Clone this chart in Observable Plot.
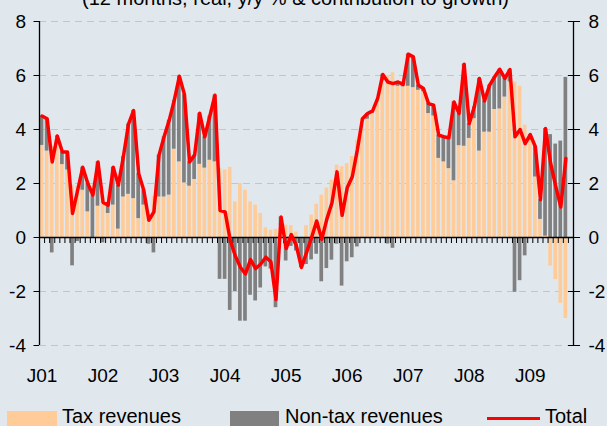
<!DOCTYPE html>
<html><head><meta charset="utf-8">
<script src="https://cdn.jsdelivr.net/npm/d3@7"></script>
<script src="https://cdn.jsdelivr.net/npm/@observablehq/plot@0.6"></script>
<style>
html,body{margin:0;padding:0;}
body{width:607px;height:426px;overflow:hidden;background:#e0e8ee;position:relative;font-family:"Liberation Sans",Arial,sans-serif;color:#000;}
#title{position:absolute;left:-8px;top:-12px;width:607px;text-align:center;font-size:20px;line-height:20px;white-space:nowrap;}
#chart{position:absolute;left:0;top:0;}
.lt{position:absolute;top:406px;font-size:20px;line-height:20px;white-space:nowrap;}
.sw{position:absolute;}
</style></head><body>
<div id="title">(12 months, real, y/y % &amp; contribution to growth)</div>
<div id="chart"></div>
<div class="sw" style="left:7px;top:411px;width:50px;height:20px;background:#ffcc99"></div>
<div class="lt" style="left:62px">Tax revenues</div>
<div class="sw" style="left:230px;top:411px;width:49px;height:20px;background:#808080"></div>
<div class="lt" style="left:285px">Non-tax revenues</div>
<div class="sw" style="left:487px;top:417px;width:53px;height:3px;background:#ff0000"></div>
<div class="lt" style="left:545px">Total</div>
<script>
// Monthly data, Jan 2001 - Aug 2009
const yearLabels = ["J01","J02","J03","J04","J05","J06","J07","J08","J09"];
const yTicks = [-4, -2, 0, 2, 4, 6, 8];
const seriesNames = ["Tax revenues", "Non-tax revenues", "Total"];

const taxRevenues = [
  3.41, 3.2, 3.37, 3.7, 2.7, 2.5, 1.94, 1.9, 1.75, 0.95, 0.0, 1.16,
  1.5, 0.89, 1.2, 0.31, 1.5, 1.6, 1.44, 0.7, 1.2, 0.89, 1.52, 1.5,
  1.5, 1.57, 3.27, 2.8, 2.02, 1.9, 2.15, 2.71, 2.57, 2.86, 2.8, 2.55,
  2.5, 2.6, 1.32, 2.0, 1.75, 1.32, 1.2, 0.89, 0.36, 0.27, 0.3, 0.45,
  0.46, 0.44, 0.2, 0.0, 0.44, 0.83, 1.23, 1.57, 1.83, 2.12, 2.68, 2.62,
  2.74, 3.0, 3.6, 4.4, 4.38, 4.6, 5.15, 5.8, 6.0, 6.1, 5.6, 5.58,
  5.6, 5.55, 5.45, 5.4, 4.59, 4.5, 2.93, 2.8, 2.55, 2.1, 3.4, 3.38,
  3.67, 4.4, 3.2, 3.9, 3.9, 4.74, 4.76, 5.2, 5.76, 5.76, 5.6, 4.16,
  3.6, 2.24, 0.67, 0.05, -1.06, -1.56, -2.44, -3.0
];
const nonTaxRevenues = [
  1.09, 1.2, -0.57, 0.06, 0.47, 0.67, -1.05, -0.15, 0.85, 1.05, 1.57, 1.64,
  -0.2, 0.31, 1.4, 1.63, 1.5, 2.6, 3.26, 1.67, 0.55, -0.25, -0.57, 1.55,
  2.23, 2.77, 1.81, 3.17, 3.28, 0.9, 0.9, 1.89, 1.16, 1.64, 2.47, -1.55,
  -1.55, -2.7, -2.0, -3.1, -3.1, -2.14, -2.35, -1.87, -1.09, -1.17, -2.6, 0.31,
  -0.87, -0.33, -0.5, -1.11, -1.0, -0.83, -0.62, -1.64, -1.15, -0.84, -0.25, -1.8,
  -0.9, -0.75, -0.35, 0.0, 0.21, 0.09, 0.0, 0.24, -0.24, -0.4, 0.16, 0.09,
  1.19, 1.14, 0.19, 0.12, 0.37, 0.4, 0.86, 0.93, 1.14, 2.92, 1.19, 3.04,
  0.55, 0.44, 2.69, 1.16, 1.74, 1.21, 1.47, 0.69, 0.46, -2.03, -1.6, -0.68,
  0.21, 1.12, 0.73, 3.99, 3.81, 3.46, 3.57, 5.93
];
const totalRevenues = [
  4.5, 4.4, 2.8, 3.76, 3.17, 3.17, 0.89, 1.75, 2.6, 2.0, 1.57, 2.8,
  1.3, 1.2, 2.6, 1.94, 3.0, 4.2, 4.7, 2.37, 1.75, 0.64, 0.95, 3.05,
  3.73, 4.34, 5.08, 5.97, 5.3, 2.8, 3.05, 4.6, 3.73, 4.5, 5.27, 1.0,
  0.95, -0.1, -0.68, -1.1, -1.35, -0.82, -1.15, -0.98, -0.73, -0.9, -2.3, 0.76,
  -0.41, 0.11, -0.3, -1.11, -0.56, 0.0, 0.61, -0.07, 0.68, 1.28, 2.43, 0.82,
  1.84, 2.25, 3.25, 4.4, 4.59, 4.69, 5.15, 6.04, 5.76, 5.7, 5.76, 5.67,
  6.79, 6.69, 5.64, 5.52, 4.96, 4.9, 3.79, 3.73, 3.69, 5.02, 4.59, 6.42,
  4.22, 4.84, 5.89, 5.06, 5.64, 5.95, 6.23, 5.89, 6.22, 3.73, 4.0, 3.48,
  3.81, 3.36, 1.4, 4.04, 2.75, 1.9, 1.13, 2.93
];

const nSlots = 105; // Jan 2001 .. Sep 2009 on the category axis
const W = 607, H = 390, mt = 21, mb = 45, ml = 39, mr = 34;
const pxPerUnit = (H - mt - mb) / (yTicks[yTicks.length-1] - yTicks[0]);
const monthTickLen = 6 / pxPerUnit;

const bars = [];
taxRevenues.forEach((v, i) => bars.push({i, series: seriesNames[0], value: v}));
nonTaxRevenues.forEach((v, i) => bars.push({i, series: seriesNames[1], value: v}));
const lineData = totalRevenues.map((v, i) => ({i, value: v}));

const chart = Plot.plot({
  width: W, height: H,
  marginTop: mt, marginBottom: mb, marginLeft: ml, marginRight: mr,
  style: {background: "transparent", fontFamily: "Liberation Sans, Arial, sans-serif", fontSize: "19px", color: "#000", overflow: "visible"},
  x: {domain: [0, nSlots], axis: null, label: null},
  y: {domain: [yTicks[0], yTicks[yTicks.length-1]], axis: null, label: null},
  color: {domain: seriesNames.slice(0, 2), range: ["#ffcc99", "#808080"]},
  marks: [
    Plot.ruleY(yTicks.filter(d => d !== 0), {stroke: "#c3c6c8", strokeWidth: 1.2, strokeDasharray: "7,5"}),
    Plot.rectY(bars, {x: "i", interval: 1, y: "value", fill: "series", insetLeft: 0.7, insetRight: 0.7}),
    Plot.ruleY([0], {stroke: "#000", strokeWidth: 1.3}),
    Plot.ruleX(d3.range(0, nSlots + 1), {y1: 0, y2: -monthTickLen, stroke: "#000", strokeWidth: 1}),
    Plot.line(lineData, {x: d => d.i + 0.5, y: "value", stroke: "#ff0000", strokeWidth: 3.5, strokeLinejoin: "round", strokeLinecap: "round"}),
    Plot.ruleX([0, nSlots], {y1: yTicks[0], y2: yTicks[yTicks.length-1], stroke: "#000", strokeWidth: 1.3}),
    Plot.axisY(yTicks, {anchor: "left", label: null, tickSize: 5.5, tickPadding: 8, tickFormat: d => String(d), fontSize: 19}),
    Plot.axisY(yTicks, {anchor: "right", label: null, tickSize: 6, tickPadding: 9, tickFormat: d => String(d), fontSize: 19}),
    Plot.axisY(yTicks, {anchor: "right", label: null, tickSize: -6, tickFormat: () => ""}),
    Plot.axisX(yearLabels.map((_, k) => k * 12 + 0.5), {anchor: "bottom", label: null, tickSize: 0, tickPadding: 23, tickFormat: d => yearLabels[Math.floor(d / 12)], fontSize: 19})
  ]
});
document.getElementById("chart").appendChild(chart);
</script>
</body></html>
